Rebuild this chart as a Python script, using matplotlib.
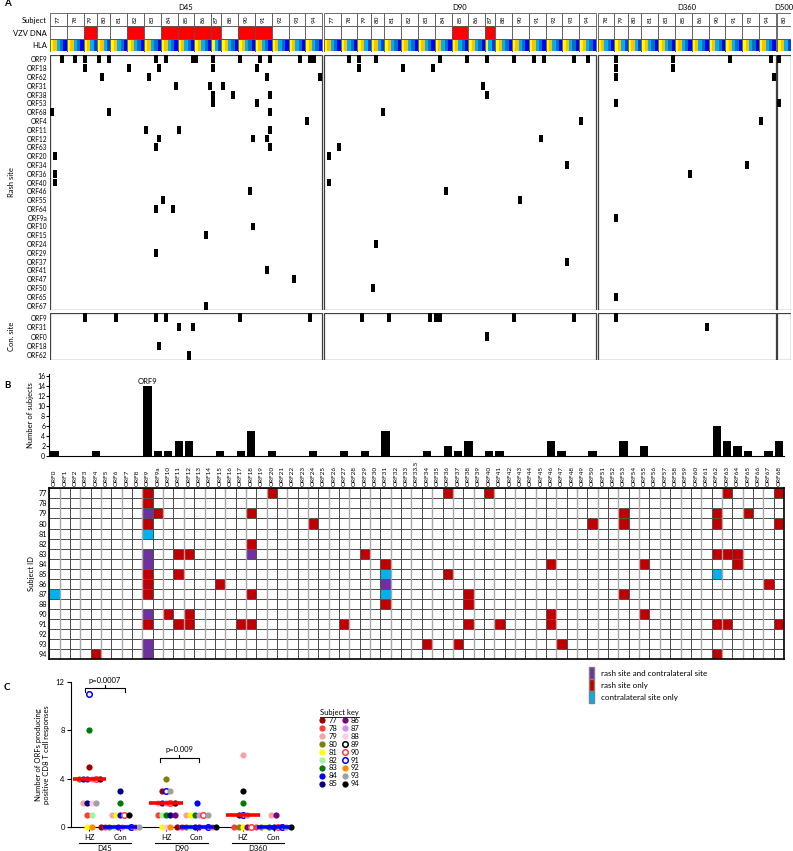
import numpy as np
import matplotlib
matplotlib.use('Agg')
import matplotlib.pyplot as plt
import matplotlib.transforms as mtransforms
from matplotlib.patches import Rectangle, Patch
from matplotlib.lines import Line2D
from matplotlib.colors import ListedColormap

plt.rcParams['font.family'] = ['Lato', 'DejaVu Sans']

# ---------------- panel A data ----------------
visits = ['D45', 'D90', 'D360', 'D500']
subjects_d45 = [77, 78, 79, 80, 81, 82, 83, 84, 85, 86, 87, 88, 90, 91, 92, 93, 94]
subjects_d90 = [77, 78, 79, 80, 81, 82, 83, 84, 85, 86, 87, 88, 90, 91, 92, 93, 94]
subjects_d360 = [78, 79, 80, 81, 83, 85, 86, 90, 91, 93, 94]
subjects_d500 = [80]
# number of HLA class I alleles per subject (= width of subject column)
hla_alleles = {77: 5, 78: 5, 79: 4, 80: 4, 81: 5, 82: 5, 83: 5, 84: 5, 85: 5, 86: 5,
               87: 3, 88: 5, 90: 5, 91: 5, 92: 5, 93: 5, 94: 5}
vzv_dna_pos = {'D45': [79, 82, 84, 85, 86, 87, 90, 91], 'D90': [85, 87]}

rash_orfs = ['ORF9', 'ORF18', 'ORF62', 'ORF31', 'ORF38', 'ORF53', 'ORF68', 'ORF4', 'ORF11',
             'ORF12', 'ORF63', 'ORF20', 'ORF34', 'ORF36', 'ORF40', 'ORF46', 'ORF55', 'ORF64',
             'ORF9a', 'ORF10', 'ORF15', 'ORF24', 'ORF29', 'ORF37', 'ORF41', 'ORF47', 'ORF50',
             'ORF65', 'ORF67']
con_orfs = ['ORF9', 'ORF31', 'ORF0', 'ORF18', 'ORF62']

# (visit, subject, HLA allele, ORF)
rash_hits = [
    ('D45', 77, 3, 'ORF9'), ('D45', 78, 2, 'ORF9'), ('D45', 79, 0, 'ORF9'), ('D45', 80, 0, 'ORF9'),
    ('D45', 80, 3, 'ORF9'), ('D45', 83, 3, 'ORF9'), ('D45', 84, 1, 'ORF9'), ('D45', 85, 4, 'ORF9'),
    ('D45', 86, 0, 'ORF9'), ('D45', 87, 0, 'ORF9'), ('D45', 90, 0, 'ORF9'), ('D45', 91, 1, 'ORF9'),
    ('D45', 91, 4, 'ORF9'), ('D45', 93, 3, 'ORF9'), ('D45', 94, 1, 'ORF9'), ('D45', 94, 2, 'ORF9'),
    ('D45', 79, 0, 'ORF18'), ('D45', 82, 0, 'ORF18'), ('D45', 83, 4, 'ORF18'), ('D45', 87, 0, 'ORF18'),
    ('D45', 91, 0, 'ORF18'),
    ('D45', 80, 1, 'ORF62'), ('D45', 83, 1, 'ORF62'), ('D45', 91, 3, 'ORF62'), ('D45', 94, 4, 'ORF62'),
    ('D45', 84, 4, 'ORF31'), ('D45', 86, 4, 'ORF31'), ('D45', 88, 0, 'ORF31'),
    ('D45', 87, 0, 'ORF38'), ('D45', 88, 3, 'ORF38'), ('D45', 91, 4, 'ORF38'),
    ('D45', 87, 0, 'ORF53'), ('D45', 91, 0, 'ORF53'),
    ('D45', 77, 0, 'ORF68'), ('D45', 80, 3, 'ORF68'), ('D45', 91, 4, 'ORF68'),
    ('D45', 94, 0, 'ORF4'),
    ('D45', 83, 0, 'ORF11'), ('D45', 85, 0, 'ORF11'), ('D45', 91, 4, 'ORF11'),
    ('D45', 83, 4, 'ORF12'), ('D45', 90, 4, 'ORF12'), ('D45', 91, 3, 'ORF12'),
    ('D45', 83, 3, 'ORF63'), ('D45', 91, 4, 'ORF63'),
    ('D45', 77, 1, 'ORF20'), ('D45', 77, 1, 'ORF36'), ('D45', 77, 1, 'ORF40'),
    ('D45', 90, 3, 'ORF46'), ('D45', 84, 0, 'ORF55'), ('D45', 83, 3, 'ORF64'), ('D45', 84, 3, 'ORF64'),
    ('D45', 90, 4, 'ORF10'), ('D45', 86, 3, 'ORF15'), ('D45', 83, 3, 'ORF29'), ('D45', 91, 3, 'ORF41'),
    ('D45', 93, 1, 'ORF47'), ('D45', 86, 3, 'ORF67'),
    ('D90', 78, 2, 'ORF9'), ('D90', 79, 0, 'ORF9'), ('D90', 80, 1, 'ORF9'), ('D90', 84, 1, 'ORF9'),
    ('D90', 85, 4, 'ORF9'), ('D90', 87, 0, 'ORF9'), ('D90', 90, 0, 'ORF9'), ('D90', 91, 1, 'ORF9'),
    ('D90', 91, 4, 'ORF9'), ('D90', 93, 3, 'ORF9'), ('D90', 94, 2, 'ORF9'),
    ('D90', 79, 0, 'ORF18'), ('D90', 82, 0, 'ORF18'), ('D90', 83, 4, 'ORF18'),
    ('D90', 86, 4, 'ORF31'), ('D90', 87, 0, 'ORF38'), ('D90', 80, 3, 'ORF68'), ('D90', 94, 0, 'ORF4'),
    ('D90', 91, 3, 'ORF12'), ('D90', 77, 4, 'ORF63'), ('D90', 77, 1, 'ORF20'), ('D90', 77, 1, 'ORF40'),
    ('D90', 84, 3, 'ORF46'), ('D90', 90, 2, 'ORF55'), ('D90', 80, 1, 'ORF24'), ('D90', 93, 1, 'ORF34'),
    ('D90', 93, 1, 'ORF37'), ('D90', 80, 0, 'ORF50'),
    ('D360', 79, 0, 'ORF9'), ('D360', 83, 4, 'ORF9'), ('D360', 91, 1, 'ORF9'), ('D360', 94, 3, 'ORF9'),
    ('D360', 79, 0, 'ORF18'), ('D360', 83, 4, 'ORF18'), ('D360', 79, 0, 'ORF62'), ('D360', 94, 4, 'ORF62'),
    ('D360', 79, 0, 'ORF53'), ('D360', 94, 0, 'ORF4'), ('D360', 85, 4, 'ORF36'), ('D360', 93, 1, 'ORF34'),
    ('D360', 79, 0, 'ORF9a'), ('D360', 79, 0, 'ORF65'),
    ('D500', 80, 0, 'ORF9'), ('D500', 80, 0, 'ORF53'),
]
con_hits = [
    ('D45', 79, 0, 'ORF9'), ('D45', 81, 1, 'ORF9'), ('D45', 83, 3, 'ORF9'), ('D45', 84, 1, 'ORF9'),
    ('D45', 90, 0, 'ORF9'), ('D45', 94, 1, 'ORF9'), ('D45', 85, 0, 'ORF31'), ('D45', 85, 4, 'ORF31'),
    ('D45', 83, 4, 'ORF18'), ('D45', 85, 3, 'ORF62'),
    ('D90', 79, 1, 'ORF9'), ('D90', 81, 1, 'ORF9'), ('D90', 83, 3, 'ORF9'), ('D90', 84, 0, 'ORF9'),
    ('D90', 84, 1, 'ORF9'), ('D90', 90, 0, 'ORF9'), ('D90', 93, 3, 'ORF9'), ('D90', 87, 0, 'ORF0'),
    ('D360', 79, 0, 'ORF9'), ('D360', 86, 4, 'ORF31'),
]

# ---------------- panel B data ----------------
orf_names = (['ORF%d' % i for i in range(0, 10)] + ['ORF9a'] + ['ORF%d' % i for i in range(10, 34)]
             + ['ORF33.5'] + ['ORF%d' % i for i in range(34, 69)])
hm_subjects = [77, 78, 79, 80, 81, 82, 83, 84, 85, 86, 87, 88, 90, 91, 92, 93, 94]
both_sites = [(79, 'ORF9'), (83, 'ORF9'), (84, 'ORF9'), (90, 'ORF9'), (93, 'ORF9'), (94, 'ORF9'),
              (83, 'ORF18'), (86, 'ORF31')]
rash_only = [(77, 'ORF9'), (77, 'ORF20'), (77, 'ORF36'), (77, 'ORF40'), (77, 'ORF63'), (77, 'ORF68'),
             (78, 'ORF9'),
             (79, 'ORF9a'), (79, 'ORF18'), (79, 'ORF53'), (79, 'ORF62'), (79, 'ORF65'),
             (80, 'ORF9'), (80, 'ORF24'), (80, 'ORF50'), (80, 'ORF53'), (80, 'ORF62'), (80, 'ORF68'),
             (82, 'ORF18'),
             (83, 'ORF11'), (83, 'ORF12'), (83, 'ORF29'), (83, 'ORF62'), (83, 'ORF63'), (83, 'ORF64'),
             (84, 'ORF31'), (84, 'ORF46'), (84, 'ORF55'), (84, 'ORF64'),
             (85, 'ORF9'), (85, 'ORF11'), (85, 'ORF36'),
             (86, 'ORF9'), (86, 'ORF15'), (86, 'ORF67'),
             (87, 'ORF9'), (87, 'ORF18'), (87, 'ORF38'), (87, 'ORF53'),
             (88, 'ORF31'), (88, 'ORF38'),
             (90, 'ORF10'), (90, 'ORF12'), (90, 'ORF46'), (90, 'ORF55'),
             (91, 'ORF9'), (91, 'ORF11'), (91, 'ORF12'), (91, 'ORF17'), (91, 'ORF18'), (91, 'ORF27'),
             (91, 'ORF38'), (91, 'ORF41'), (91, 'ORF46'), (91, 'ORF62'), (91, 'ORF63'), (91, 'ORF68'),
             (93, 'ORF34'), (93, 'ORF37'), (93, 'ORF47'),
             (94, 'ORF4'), (94, 'ORF62')]
contra_only = [(81, 'ORF9'), (85, 'ORF31'), (87, 'ORF31'), (87, 'ORF0'), (85, 'ORF62')]

# ---------------- panel C data ----------------
hz_d45 = [5, 1, 2, 4, 0, 1, 8, 4, 2, 4, 4, 2, 4, 11, 0, 2, 4]      # subjects_d45 order
con_d45 = [0, 0, 1, 0, 1, 0, 2, 1, 3, 0, 0, 0, 1, 0, 0, 0, 1]
hz_d90 = [3, 1, 2, 4, 0, 1, 1, 2, 1, 1, 2, 0, 2, 3, 0, 3, 2]       # subjects_d90 order
con_d90 = [0, 0, 1, 0, 1, 0, 1, 2, 0, 0, 1, 0, 1, 0, 0, 1, 0]
hz_d360 = [0, 6, 0, 0, 2, 1, 0, 0, 1, 1, 3]                          # subjects_d360 order
con_d360 = [0, 1, 0, 0, 0, 0, 1, 0, 0, 0, 0]
key_subjects = [77, 78, 79, 80, 81, 82, 83, 84, 85, 86, 87, 88, 89, 90, 91, 92, 93, 94]

subj_colour = {77: '#9B0000', 78: '#FF3B3B', 79: '#F5A3A3', 80: '#7F7F00', 81: '#FFFF00',
               82: '#A0F5A0', 83: '#007A00', 84: '#0000FF', 85: '#000080', 86: '#7B007B',
               87: '#D58CF5', 88: '#FFCCE6', 89: '#000000', 90: '#FF3B3B', 91: '#0000FF',
               92: '#FF8C00', 93: '#A0A0A0', 94: '#000000'}
hollow = [89, 90, 91]

W, H = 793, 851
fig = plt.figure(figsize=(W / 100, H / 100), dpi=100)


def px_axes(x0, y0, x1, y1):
    return fig.add_axes([x0 / W, 1 - y1 / H, (x1 - x0) / W, (y1 - y0) / H])


def clean(ax):
    for sp in ax.spines.values():
        sp.set_visible(False)
    ax.set_xticks([])


# ---------------- panel A ----------------
visit_subjects = [subjects_d45, subjects_d90, subjects_d360, subjects_d500]
gap = 0.5
col_start = {}
blocks = []
pos = 0.0
for v, subs in zip(visits, visit_subjects):
    b0 = pos
    for s in subs:
        col_start[(v, s)] = pos
        pos += hla_alleles[s]
    blocks.append((b0, pos))
    pos += gap
x_end = pos - gap
unit = 3.36
xr = 50 + x_end * unit

hla_cols = {5: ['#FFFF00', '#FFC000', '#00B0F0', '#0070C0', '#0000FF'],
            4: ['#FFFF00', '#FFC000', '#00B0F0', '#0040E0'],
            3: ['#FFFF00', '#00B0F0', '#0040E0']}

ax_h = px_axes(50, 13, xr, 52)
clean(ax_h)
for v, subs in zip(visits, visit_subjects):
    for s in subs:
        x0 = col_start[(v, s)]
        n = hla_alleles[s]
        ax_h.add_patch(Rectangle((x0, 0), n, 1, fc='white', ec='#555555', lw=0.6))
        ax_h.text(x0 + n / 2, 0.5, str(s), rotation=90, ha='center', va='center', fontsize=4.6)
        fc = 'red' if s in vzv_dna_pos.get(v, []) else 'white'
        ax_h.add_patch(Rectangle((x0, 1), n, 1, fc=fc, ec='#555555', lw=0.6))
        for i in range(n):
            ax_h.add_patch(Rectangle((x0 + i, 2.08), 1, 0.84, fc=hla_cols[n][i], ec='none'))
        ax_h.add_patch(Rectangle((x0, 2), n, 1, fill=False, ec='#555555', lw=0.6))
for v, (b0, b1) in zip(visits, blocks):
    ax_h.text((b0 + b1) / 2, -0.12, v, ha='center', va='bottom', fontsize=5.5)
ax_h.set_xlim(0, x_end)
ax_h.set_ylim(3, 0)
ax_h.set_yticks([0.5, 1.5, 2.5])
ax_h.set_yticklabels(['Subject', 'VZV DNA', 'HLA'])
ax_h.tick_params(axis='y', length=0, labelsize=5.5, pad=2)


def hit_panel(y0, y1, orfs, hits):
    ax = px_axes(50, y0, xr, y1)
    clean(ax)
    for b0, b1 in blocks:
        ax.add_patch(Rectangle((b0, 0), b1 - b0, len(orfs), fill=False, ec='#404040', lw=0.9))
    xs = [col_start[(v, s)] + a + 0.5 for v, s, a, o in hits]
    ys = [orfs.index(o) + 0.05 for v, s, a, o in hits]
    ax.bar(xs, 0.9, width=1.2, bottom=ys, color='black')
    ax.set_xlim(0, x_end)
    ax.set_ylim(len(orfs), 0)
    ax.set_yticks(np.arange(len(orfs)) + 0.5)
    ax.set_yticklabels(orfs)
    ax.tick_params(axis='y', length=0, labelsize=4.7, pad=2)
    return ax


hit_panel(55, 310, rash_orfs, rash_hits)
hit_panel(313, 360, con_orfs, con_hits)
fig.text(12 / W, 1 - 182 / H, 'Rash site', rotation=90, ha='center', va='center', fontsize=5.5)
fig.text(12 / W, 1 - 336 / H, 'Con. site', rotation=90, ha='center', va='center', fontsize=5.5)

# ---------------- panel B ----------------
M = np.zeros((len(hm_subjects), len(orf_names)))
for code, cells in [(1, both_sites), (2, rash_only), (3, contra_only)]:
    for s, o in cells:
        M[hm_subjects.index(s), orf_names.index(o)] = code
counts = (M > 0).sum(axis=0)

ax_b = px_axes(49.3, 374, 784, 456)
ax_b.bar(np.arange(len(orf_names)), counts, width=0.8, color='black')
i9 = orf_names.index('ORF9')
ax_b.text(i9, counts[i9] + 0.2, 'ORF9', ha='center', va='bottom', fontsize=5.5)
ax_b.set_xlim(-0.5, len(orf_names) - 0.5)
ax_b.set_ylim(0, 16.5)
ax_b.set_yticks(np.arange(0, 17, 2))
ax_b.set_xticks([])
ax_b.spines['top'].set_visible(False)
ax_b.spines['right'].set_visible(False)
ax_b.tick_params(axis='y', labelsize=5, length=2, pad=1)
ax_b.set_ylabel('Number of subjects', fontsize=5.5, labelpad=2)

ax_m = px_axes(49.3, 488.3, 784, 659.3)
cmap = ListedColormap(['white', '#7030A0', '#C00000', '#00B0F0'])
ax_m.pcolormesh(np.arange(len(orf_names) + 1) - 0.5, np.arange(len(hm_subjects) + 1) - 0.5, M,
                cmap=cmap, vmin=-0.5, vmax=3.5, edgecolors='#505050', linewidth=0.45)
# every other column line is drawn as a lighter, heavier grey line
ax_m.vlines(np.arange(0, len(orf_names), 2) + 0.5, -0.5, len(hm_subjects) - 0.5,
            color='#A8A8A8', lw=1.0, zorder=2)
ax_m.set_ylim(len(hm_subjects) - 0.5, -0.5)
ax_m.set_xlim(-0.5, len(orf_names) - 0.5)
ax_m.xaxis.tick_top()
ax_m.set_xticks(np.arange(len(orf_names)))
ax_m.set_xticklabels(orf_names, rotation=90, fontsize=4.6)
ax_m.set_yticks(np.arange(len(hm_subjects)))
ax_m.set_yticklabels(hm_subjects, fontsize=5.2)
ax_m.tick_params(length=0, pad=1.5)
for sp in ax_m.spines.values():
    sp.set_linewidth(1.2)
    sp.set_zorder(3)
ax_m.set_ylabel('Subject ID', fontsize=5.5, labelpad=3)

fig.legend(handles=[Patch(fc='#7030A0', ec='#808080'), Patch(fc='#C00000', ec='#808080'),
                    Patch(fc='#00B0F0', ec='#808080')],
           labels=['rash site and contralateral site', 'rash site only', 'contralateral site only'],
           loc='upper left', bbox_to_anchor=(586 / W, 1 - 664 / H), frameon=False, fontsize=5.8,
           handlelength=0.6, handleheight=1.9, labelspacing=0.0, handletextpad=0.9, borderaxespad=0)

# ---------------- panel C ----------------
ax_c = px_axes(71, 681.7, 290.7, 827.3)
group_x = [0, 1, 2.5, 3.5, 5, 6]
groups = [(subjects_d45, hz_d45, 'r'), (subjects_d45, con_d45, 'b'),
          (subjects_d90, hz_d90, 'r'), (subjects_d90, con_d90, 'b'),
          (subjects_d360, hz_d360, 'r'), (subjects_d360, con_d360, 'b')]
step = 0.14
for gx, (subs, vals, lc) in zip(group_x, groups):
    vals = np.array(vals)
    for val in np.unique(vals):
        idx = np.where(vals == val)[0]
        m = len(idx)
        for k, i in enumerate(idx):
            s = subs[i]
            xx = gx + (k - (m - 1) / 2) * step
            if s in hollow:
                ax_c.scatter(xx, val, s=16, facecolor='white', edgecolor=subj_colour[s], linewidth=1.1,
                             clip_on=False, zorder=3)
            else:
                ax_c.scatter(xx, val, s=20, color=subj_colour[s], linewidth=0, clip_on=False, zorder=3)
    med = np.median(vals)
    ax_c.plot([gx - 0.55, gx + 0.55], [med, med], color='#FF0000' if lc == 'r' else '#0000FF',
              lw=2.6, solid_capstyle='butt', clip_on=False, zorder=4)

ax_c.set_xlim(-0.6, 6.56)
ax_c.set_ylim(0, 12)
ax_c.set_yticks([0, 4, 8, 12])
ax_c.set_xticks(group_x)
ax_c.set_xticklabels(['HZ', 'Con'] * 3)
ax_c.tick_params(labelsize=5.5, length=3, pad=1.5)
ax_c.spines['top'].set_visible(False)
ax_c.spines['right'].set_visible(False)
ax_c.set_ylabel('Number of ORFs producing\npositive CD8 T cell responses', fontsize=5.5, labelpad=4)

trans = mtransforms.blended_transform_factory(ax_c.transData, ax_c.transAxes)
for (xa, xb), lab in zip([(0, 1), (2.5, 3.5), (5, 6)], ['D45', 'D90', 'D360']):
    ax_c.plot([xa - 0.35, xb + 0.35], [-0.105, -0.105], color='black', lw=0.8,
              transform=trans, clip_on=False)
    ax_c.text((xa + xb) / 2, -0.125, lab, ha='center', va='top', fontsize=5.5, transform=trans)


def bracket(ax, xa, xb, y, txt):
    ax.plot([xa, xa, xb, xb], [y - 0.3, y, y, y - 0.3], color='black', lw=0.8, clip_on=False)
    ax.plot([(xa + xb) / 2] * 2, [y, y + 0.3], color='black', lw=0.8, clip_on=False)
    ax.text((xa + xb) / 2, y + 0.4, txt, ha='center', va='bottom', fontsize=5.5)


bracket(ax_c, -0.14, 1.16, 11.45, 'p=0.0007')
bracket(ax_c, 2.3, 3.57, 5.7, 'p=0.009')

handles = []
for s in key_subjects:
    if s in hollow:
        handles.append(Line2D([], [], ls='none', marker='o', ms=4, mfc='white', mec=subj_colour[s], mew=1.1))
    else:
        handles.append(Line2D([], [], ls='none', marker='o', ms=4.5, mfc=subj_colour[s], mec='none'))
leg = fig.legend(handles=handles, labels=[str(s) for s in key_subjects], ncol=2, title='Subject key',
                 loc='upper left', bbox_to_anchor=(316 / W, 1 - 706 / H), frameon=False, fontsize=5.5,
                 title_fontsize=5.5, handlelength=0.8, handletextpad=0.4, labelspacing=0.12,
                 columnspacing=0.6, borderaxespad=0)

# underline the legend title
fig.canvas.draw()
tb = leg.get_title().get_window_extent()
fig.add_artist(Line2D([tb.x0, tb.x1], [tb.y0 - 0.5, tb.y0 - 0.5], color='black', lw=0.6,
                      transform=mtransforms.IdentityTransform()))

fig.text(4 / W, 1 - 4 / H, 'A', fontsize=7, fontweight='bold', va='center')
fig.text(4 / W, 1 - 385 / H, 'B', fontsize=7, fontweight='bold', va='center')
fig.text(4 / W, 1 - 688 / H, 'C', fontsize=7, fontweight='bold', va='center')

fig.savefig('out.png', dpi=100)
